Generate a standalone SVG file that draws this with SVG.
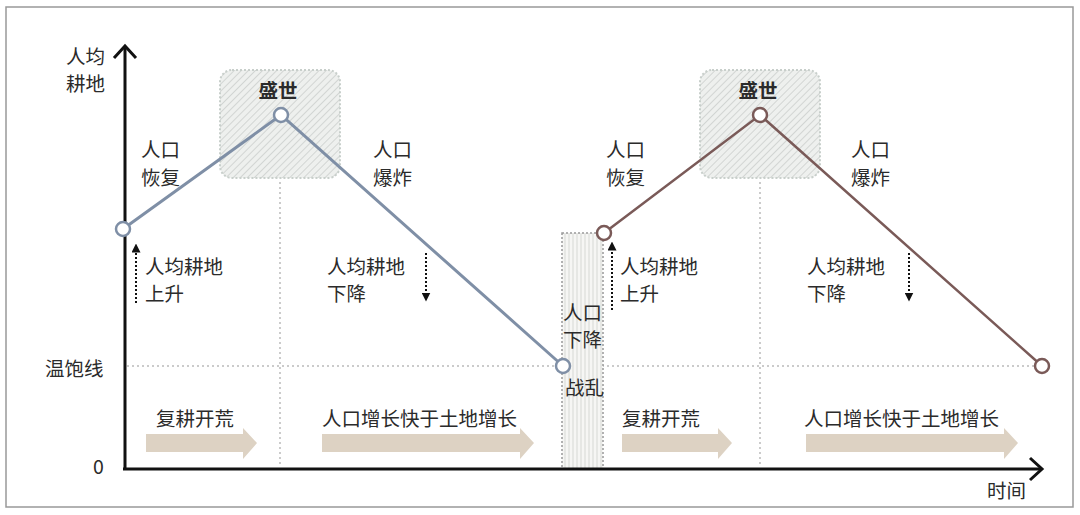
<svg xmlns="http://www.w3.org/2000/svg" width="1080" height="515" viewBox="0 0 1080 515">
<defs>
<style>
text{font-family:"Noto Sans CJK SC","Noto Sans",sans-serif;font-size:19.5px;fill:#2b2b2b}
.ax{stroke:#111;stroke-width:3;fill:none}
.guide{stroke:#bbb;stroke-width:1.5;stroke-dasharray:2 3;fill:none}
.blue{stroke:#7f8fa6;stroke-width:3;fill:none}
.brown{stroke:#7a5a58;stroke-width:2.5;fill:none}
.dotarrow{stroke:#111;stroke-width:2;stroke-dasharray:2 2;fill:none}
.band{fill:#ddd2c3}
.box{fill:url(#diag);stroke:#c8cfcb;stroke-width:2;stroke-dasharray:2 2}
</style>
<pattern id="diag" width="5" height="5" patternUnits="userSpaceOnUse" patternTransform="rotate(45)">
<rect width="5" height="5" fill="#eef0ee"/>
<line x1="0" y1="0" x2="0" y2="5" stroke="#c9cdca" stroke-width="1.5"/>
</pattern>
<pattern id="vert" width="4" height="4" patternUnits="userSpaceOnUse">
<rect width="4" height="4" fill="#f6f6f4"/>
<line x1="1" y1="0" x2="1" y2="4" stroke="#d6d8d5" stroke-width="1"/>
</pattern>
<marker id="tri" viewBox="0 0 10 10" refX="5" refY="5" markerWidth="4.5" markerHeight="4.5" orient="auto">
<path d="M0,0 L10,5 L0,10 z" fill="#111"/>
</marker>
</defs>
<rect x="6" y="7" width="1067" height="500" fill="#fff" stroke="#999" stroke-width="1.5"/>

<g id="guides">
<line class="guide" x1="127" y1="366" x2="1040" y2="366"/>
<line class="guide" x1="280" y1="182" x2="280" y2="467"/>
<line class="guide" x1="760" y1="182" x2="760" y2="467"/>
</g>

<g id="prosperity1"><rect class="box" x="220" y="70" width="120" height="108" rx="12"/><text x="278" y="98" text-anchor="middle" font-weight="bold">盛世</text></g>
<g id="prosperity2"><rect class="box" x="700" y="70" width="120" height="108" rx="12"/><text x="758" y="98" text-anchor="middle" font-weight="bold">盛世</text></g>

<g id="war"><rect x="562" y="233" width="41" height="236" fill="url(#vert)" stroke="#999" stroke-width="1.5" stroke-dasharray="2 2"/>
<text x="563" y="320">人口</text><text x="563" y="347">下降</text><text x="565" y="395">战乱</text></g>

<g id="bands">
<path class="band" d="M146,434 H243 V428 L257,443 L243,459 V452 H146 Z"/>
<path class="band" d="M322,434 H520 V428 L534,443 L520,459 V452 H322 Z"/>
<path class="band" d="M622,434 H718 V428 L732,443 L718,459 V452 H622 Z"/>
<path class="band" d="M806,434 H1004 V428 L1018,443 L1004,459 V452 H806 Z"/>
</g>

<g id="axes">
<line class="ax" x1="125" y1="47" x2="125" y2="469"/>
<line class="ax" x1="123" y1="469" x2="1042" y2="469"/>
<polyline class="ax" points="114,58 125,46 136,58" stroke-width="2.5"/>
<polyline class="ax" points="1030,458 1042,469 1030,480" stroke-width="2.5"/>
</g>

<g id="connectors">
<polyline class="blue" points="123,229 281,115 563,366"/>
<polyline class="brown" points="604,233 760,115 1042,366"/>
<line class="dotarrow" x1="136" y1="303" x2="136" y2="248" marker-end="url(#tri)"/>
<line class="dotarrow" x1="426" y1="253" x2="426" y2="297" marker-end="url(#tri)"/>
<line class="dotarrow" x1="612" y1="310" x2="612" y2="246" marker-end="url(#tri)"/>
<line class="dotarrow" x1="909" y1="253" x2="909" y2="297" marker-end="url(#tri)"/>
</g>

<g id="points">
<circle cx="123" cy="229" r="7" fill="#fff" stroke="#7f8fa6" stroke-width="2.5"/>
<circle cx="281" cy="115" r="7" fill="#fff" stroke="#7f8fa6" stroke-width="2.5"/>
<circle cx="563" cy="366" r="7" fill="#fff" stroke="#7f8fa6" stroke-width="2.5"/>
<circle cx="604" cy="233" r="7" fill="#fff" stroke="#7a5a58" stroke-width="2.5"/>
<circle cx="760" cy="115" r="7" fill="#fff" stroke="#7a5a58" stroke-width="2.5"/>
<circle cx="1042" cy="366" r="7" fill="#fff" stroke="#7a5a58" stroke-width="2.5"/>
</g>

<g id="labels">
<text x="66" y="64">人均</text><text x="66" y="91">耕地</text>
<text x="45" y="376">温饱线</text>
<text x="93" y="474">0</text>
<text x="987" y="498">时间</text>
<text x="141" y="157">人口</text><text x="141" y="185">恢复</text>
<text x="373" y="157">人口</text><text x="373" y="185">爆炸</text>
<text x="145" y="274">人均耕地</text><text x="145" y="301">上升</text>
<text x="327" y="274">人均耕地</text><text x="327" y="301">下降</text>
<text x="606" y="157">人口</text><text x="606" y="185">恢复</text>
<text x="851" y="157">人口</text><text x="851" y="185">爆炸</text>
<text x="620" y="274">人均耕地</text><text x="620" y="301">上升</text>
<text x="807" y="274">人均耕地</text><text x="807" y="301">下降</text>
<text x="156" y="426">复耕开荒</text>
<text x="322" y="426">人口增长快于土地增长</text>
<text x="622" y="426">复耕开荒</text>
<text x="804" y="426">人口增长快于土地增长</text>
</g>
</svg>
